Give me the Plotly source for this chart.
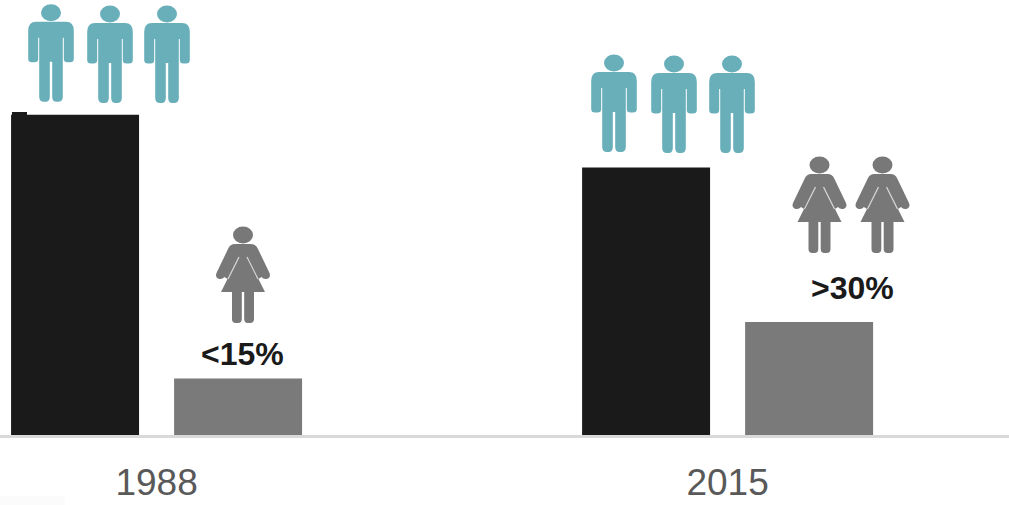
import plotly.graph_objects as go

years = ["1988", "2015"]
men = [85, 71]
women = [15, 30]
women_labels = ["<15%", ">30%"]

W, H = 1009, 505
AXIS_Y = 435
TEAL = "#68afba"
GREY = "#787878"

MAN = [("M", -15, 9), ("L", 15, 9), ("Q", 22.8, 9, 22.8, 18), ("L", 22.8, 46), ("Q", 22.8, 49.5, 19, 49.5),
       ("L", 16.5, 49.5), ("Q", 12.8, 49.5, 12.8, 46), ("L", 12.8, 25), ("L", 11.8, 25), ("L", 11.8, 84),
       ("Q", 11.8, 89, 7, 89), ("L", 5.5, 89), ("Q", 1.2, 89, 1.2, 84), ("L", 1.2, 49), ("L", -1.2, 49),
       ("L", -1.2, 84), ("Q", -1.2, 89, -5.5, 89), ("L", -7, 89), ("Q", -11.8, 89, -11.8, 84), ("L", -11.8, 25),
       ("L", -12.8, 25), ("L", -12.8, 46), ("Q", -12.8, 49.5, -16.5, 49.5), ("L", -19, 49.5),
       ("Q", -22.8, 49.5, -22.8, 46), ("L", -22.8, 18), ("Q", -22.8, 9, -15, 9)]
WOMAN = [("M", -8, 9), ("L", 8, 9), ("Q", 13, 9, 15, 14), ("L", 26.5, 38), ("Q", 28, 42, 25, 43.5), ("Q", 21, 45, 18.5, 42),
         ("L", 15.5, 44), ("L", 22, 57), ("L", 11, 57), ("L", 11, 84), ("Q", 11, 88, 7, 88), ("L", 5, 88),
         ("Q", 1.2, 88, 1.2, 84), ("L", 1.2, 57), ("L", -1.2, 57), ("L", -1.2, 84), ("Q", -1.2, 88, -5, 88),
         ("L", -7, 88), ("Q", -11, 88, -11, 84), ("L", -11, 57), ("L", -22, 57), ("L", -15.5, 44), ("L", -18.5, 42),
         ("Q", -21, 45, -25, 43.5), ("Q", -28, 42, -26.5, 38), ("L", -15, 14), ("Q", -13, 9, -8, 9)]
WOMAN_GAPS = [[("M", -4, 22), ("L", -15, 44)], [("M", 4, 22), ("L", 15, 44)]]


def px(x):
    return x / W


def py(y):
    return (AXIS_Y - y) / AXIS_Y


def path(segs, cx, cy, close=True):
    out = []
    for s in segs:
        c = s[1:]
        pts = [f"{px(cx + c[i]):.5f},{py(cy + c[i + 1]):.5f}" for i in range(0, len(c), 2)]
        out.append(s[0] + " ".join(pts))
    return " ".join(out) + (" Z" if close else "")


def icon(segs, cx, cy, color):
    return [
        dict(type="path", xref="paper", yref="paper", path=path(segs, cx, cy),
             fillcolor=color, line=dict(width=0), layer="above"),
        dict(type="circle", xref="paper", yref="paper", x0=px(cx - 10), x1=px(cx + 10),
             y0=py(cy + 8.5), y1=py(cy - 8.5), fillcolor=color, line=dict(width=0), layer="above"),
    ]


shapes = []
for cx, cy in [(51, 12.7), (110, 14), (167, 14), (614, 63), (674, 64), (732, 64)]:
    shapes += icon(MAN, cx, cy, TEAL)
for cx, cy in [(243, 235), (819.5, 165), (882.5, 165)]:
    shapes += icon(WOMAN, cx, cy, GREY)
    for gap in WOMAN_GAPS:
        shapes.append(dict(type="path", xref="paper", yref="paper", path=path(gap, cx, cy, close=False),
                           line=dict(width=1.2, color="rgba(255,255,255,0.7)"), layer="above"))

# small notch on the first bar and the faint patch at the lower left corner
shapes.append(dict(type="rect", xref="paper", yref="paper", x0=px(12), x1=px(27), y0=py(116), y1=py(112),
                   fillcolor="#1a1a1a", line=dict(width=0), layer="above"))
shapes.append(dict(type="rect", xref="paper", yref="paper", x0=0, x1=px(65), y0=py(H), y1=py(496),
                   fillcolor="#fbfbfb", line=dict(width=0), layer="above"))

fig = go.Figure()
fig.add_bar(x=years, y=men, marker=dict(color="#1a1a1a", line=dict(width=0)), name="Men")
fig.add_bar(x=years, y=women, marker=dict(color="#7a7a7a", line=dict(width=0)), name="Women")

annotations = [
    dict(xref="paper", yref="paper", x=px(xc), y=py(yb),
         text="<b>" + t.replace("<", "&lt;") + "</b>", showarrow=False, xanchor="center", yanchor="bottom",
         font=dict(family="Liberation Sans, Arial, sans-serif", size=32, color="#1a1a1a"),
         borderpad=0, borderwidth=0)
    for t, xc, yb in zip(women_labels, (242, 852), (372, 306))
]

fig.update_layout(
    width=W, height=H, autosize=False, showlegend=False,
    margin=dict(l=0, r=0, t=0, b=H - AXIS_Y, pad=0),
    paper_bgcolor="white", plot_bgcolor="white",
    barmode="group", bargap=0.429, bargroupgap=0.215,
    shapes=shapes, annotations=annotations,
    xaxis=dict(type="category", range=[-0.2742, 1.4928], showgrid=False, zeroline=False,
               showline=True, linecolor="#d9d9d9", linewidth=2.5, ticks="", ticklabelstandoff=13,
               tickfont=dict(family="Liberation Sans, Arial, sans-serif", size=37, color="#595959")),
    yaxis=dict(range=[0, 115.5], visible=False),
)
fig.write_html("out.html", config=dict(displayModeBar=False),
               post_script="document.body.style.margin='0';document.documentElement.style.overflow='hidden';")
